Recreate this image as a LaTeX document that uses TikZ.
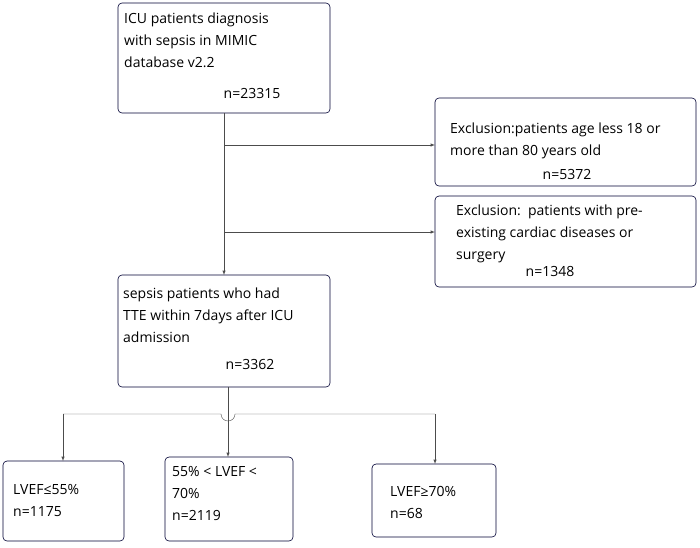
\documentclass[tikz,border=0pt]{standalone}
\usepackage{fontspec}
\setmainfont{Open Sans}
\usetikzlibrary{calc}
\tikzstyle{boite}=[draw=black!80!blue, line width=0.6pt, rounded corners=4pt]
\tikzstyle{fleche}=[-latex, line width=0.5pt, black!70]
\begin{document}
\begin{tikzpicture}[x=1pt,y=-1pt,every node/.style={font=\fontsize{14}{22}\selectfont,inner sep=0pt}]
\useasboundingbox (0,0) rectangle (700,547);

%boites
\draw[boite] (118,3) rectangle (330,113);
\node[anchor=north west,align=left] (t1) at (124,13) {ICU patients diagnosis\\with sepsis in MIMIC\\database v2.2};
\node (n1) at (252,93) {n=23315};

\draw[boite] (435,98) rectangle (696,186);
\node[anchor=north west] (t2) at (450,123) {Exclusion:patients age less 18 or};
\node[anchor=north west] (t2b) at (450,145) {more than 80 years old};
\node (n2) at (567,174) {n=5372};

\draw[boite] (435,196) rectangle (696,287);
\node[anchor=north west,align=left] (t3) at (456,205) {Exclusion:\ \ patients with pre-\\existing cardiac diseases or\\surgery};
\node (n3) at (550,271) {n=1348};

\draw[boite] (118,275) rectangle (330,387);
\node[anchor=north west,align=left] (t4) at (123,288) {sepsis patients who had\\TTE within 7days after ICU\\admission};
\node (n4) at (250,364) {n=3362};

\draw[boite] (3,461) rectangle (124,541);
\node[anchor=north west,align=left] (t5) at (13,484) {LVEF≤55\%\\n=1175};

\draw[boite] (165,457) rectangle (293,541);
\node[anchor=north west,align=left] (t6) at (172,466) {55\% < LVEF <\\70\%\\n=2119};

\draw[boite] (372,464) rectangle (496,537);
\node[anchor=north west,align=left] (t7) at (390,486) {LVEF≥70\%\\n=68};

%connecteurs
\coordinate (a) at (224,113);
\coordinate (b) at (224,275);
\draw[fleche] (a) -- (b);
\draw[fleche] (224,145) -- (435,145);
\draw[fleche] (224,232) -- (435,232);

\draw[black!70] (228,387) -- (228,414);
\draw[fleche] (63,414) -- (63,461);
\draw[fleche] (435,414) -- (435,464);
\draw[black!70] (63,414) -- (221,414) arc(180:0:7) -- (435,414);
\draw[fleche] (228,414) -- (228,457);
\end{tikzpicture}
\end{document}
